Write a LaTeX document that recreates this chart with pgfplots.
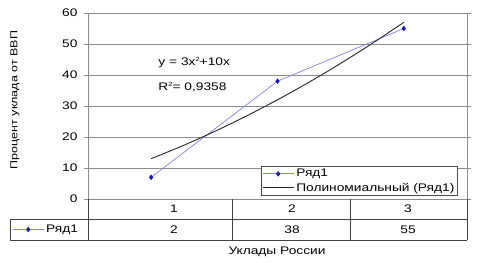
\documentclass[border=0pt]{standalone}
\usepackage{pgfplots}
\pgfplotsset{compat=1.18}
\usepackage{fontspec}
\setmainfont{Liberation Sans}[FakeStretch=1.25]
\definecolor{serline}{RGB}{130,130,230}
\definecolor{sermark}{RGB}{20,20,190}
\definecolor{gridc}{RGB}{140,140,140}
\pgfplotsset{legend image code/.code={\draw[mark repeat=2,mark phase=2] plot coordinates {(0cm,0cm) (0.55cm,0cm) (1.1cm,0cm)};}}
\newcommand{\sq}{\raisebox{4pt}{\fontsize{6}{6}\selectfont 2}}
\begin{document}
\begin{tikzpicture}[font=\fontsize{11}{12}\selectfont]
\path[use as bounding box] (0,0) rectangle (478pt,262pt);
\begin{axis}[
  at={(88pt,63pt)}, anchor=south west, scale only axis,
  width=379pt, height=186pt,
  xmin=0.5, xmax=3.5, ymin=0, ymax=60,
  ytick={0,10,...,60}, xtick=\empty,
  ymajorgrids, grid style={gridc, line width=0.7pt},
  axis line style={gridc, line width=0.7pt},
  tick align=outside, major tick length=4pt,
  ytick style={gridc, line width=0.7pt},
  /pgf/number format/assume math mode=true,
  tick label style={font=\fontsize{11}{12}\selectfont},
  yticklabel style={xshift=-3pt},
  clip=false,
  legend cell align=left,
  legend style={at={(0.976,0.016)}, anchor=south east, draw=black!70, line width=0.6pt,
    font=\fontsize{11}{12}\selectfont, inner sep=1.2pt, row sep=0.5pt, fill=white},
]
\addplot[color=serline, line width=0.7pt, mark=diamond*, mark size=2.2pt,
  mark options={fill=sermark, draw=sermark}] coordinates {(1,7) (2,38) (3,55)};
\addlegendentry{Ряд1}
\addplot[black!85, line width=0.9pt, smooth] coordinates {
 (1,13) (1.25,17.1875) (1.5,21.75) (1.75,26.6875) (2,32) (2.25,37.6875)
 (2.5,43.75) (2.75,50.1875) (3,57)};
\addlegendentry{Полиномиальный (Ряд1)}
\node[anchor=west] at (axis cs:1.03,44) {y = 3x\sq+10x};
\node[anchor=west] at (axis cs:1.03,36.2) {R\sq= 0,9358};
\end{axis}
% data table
\draw[black!75, line width=0.6pt] (88pt,63pt) -- (88pt,22pt);
\draw[black!75, line width=0.6pt] (232pt,63pt) -- (232pt,22pt);
\draw[black!75, line width=0.6pt] (350pt,63pt) -- (350pt,22pt);
\draw[black!75, line width=0.6pt] (467pt,63pt) -- (467pt,22pt);
\draw[black!75, line width=0.6pt] (10pt,43pt) -- (467pt,43pt);
\draw[black!75, line width=0.6pt] (10pt,22pt) -- (467pt,22pt);
\draw[black!75, line width=0.6pt] (10pt,43pt) -- (10pt,22pt);
\node at (174pt,53pt) {1};
\node at (292pt,53pt) {2};
\node at (408pt,53pt) {3};
\node at (174pt,32.5pt) {2};
\node at (292pt,32.5pt) {38};
\node at (408pt,32.5pt) {55};
\begin{axis}[at={(12pt,27.5pt)}, anchor=south west, scale only axis, width=1pt, height=10pt,
  hide axis, xmin=0, xmax=1, ymin=0, ymax=1,
  legend style={at={(0,0.5)}, anchor=west, draw=none, fill=none, inner sep=0pt,
   font=\fontsize{11}{12}\selectfont}]
\addlegendimage{color=serline, line width=0.7pt, mark=diamond*, mark size=2.2pt,
  mark options={fill=sermark, draw=sermark}}
\addlegendentry{Ряд1}
\end{axis}
\node[rotate=90, font=\fontsize{10}{11}\selectfont] at (15pt,162pt) {Процент уклада от ВВП};
\node at (277pt,10pt) {Уклады России};
\end{tikzpicture}
\end{document}
